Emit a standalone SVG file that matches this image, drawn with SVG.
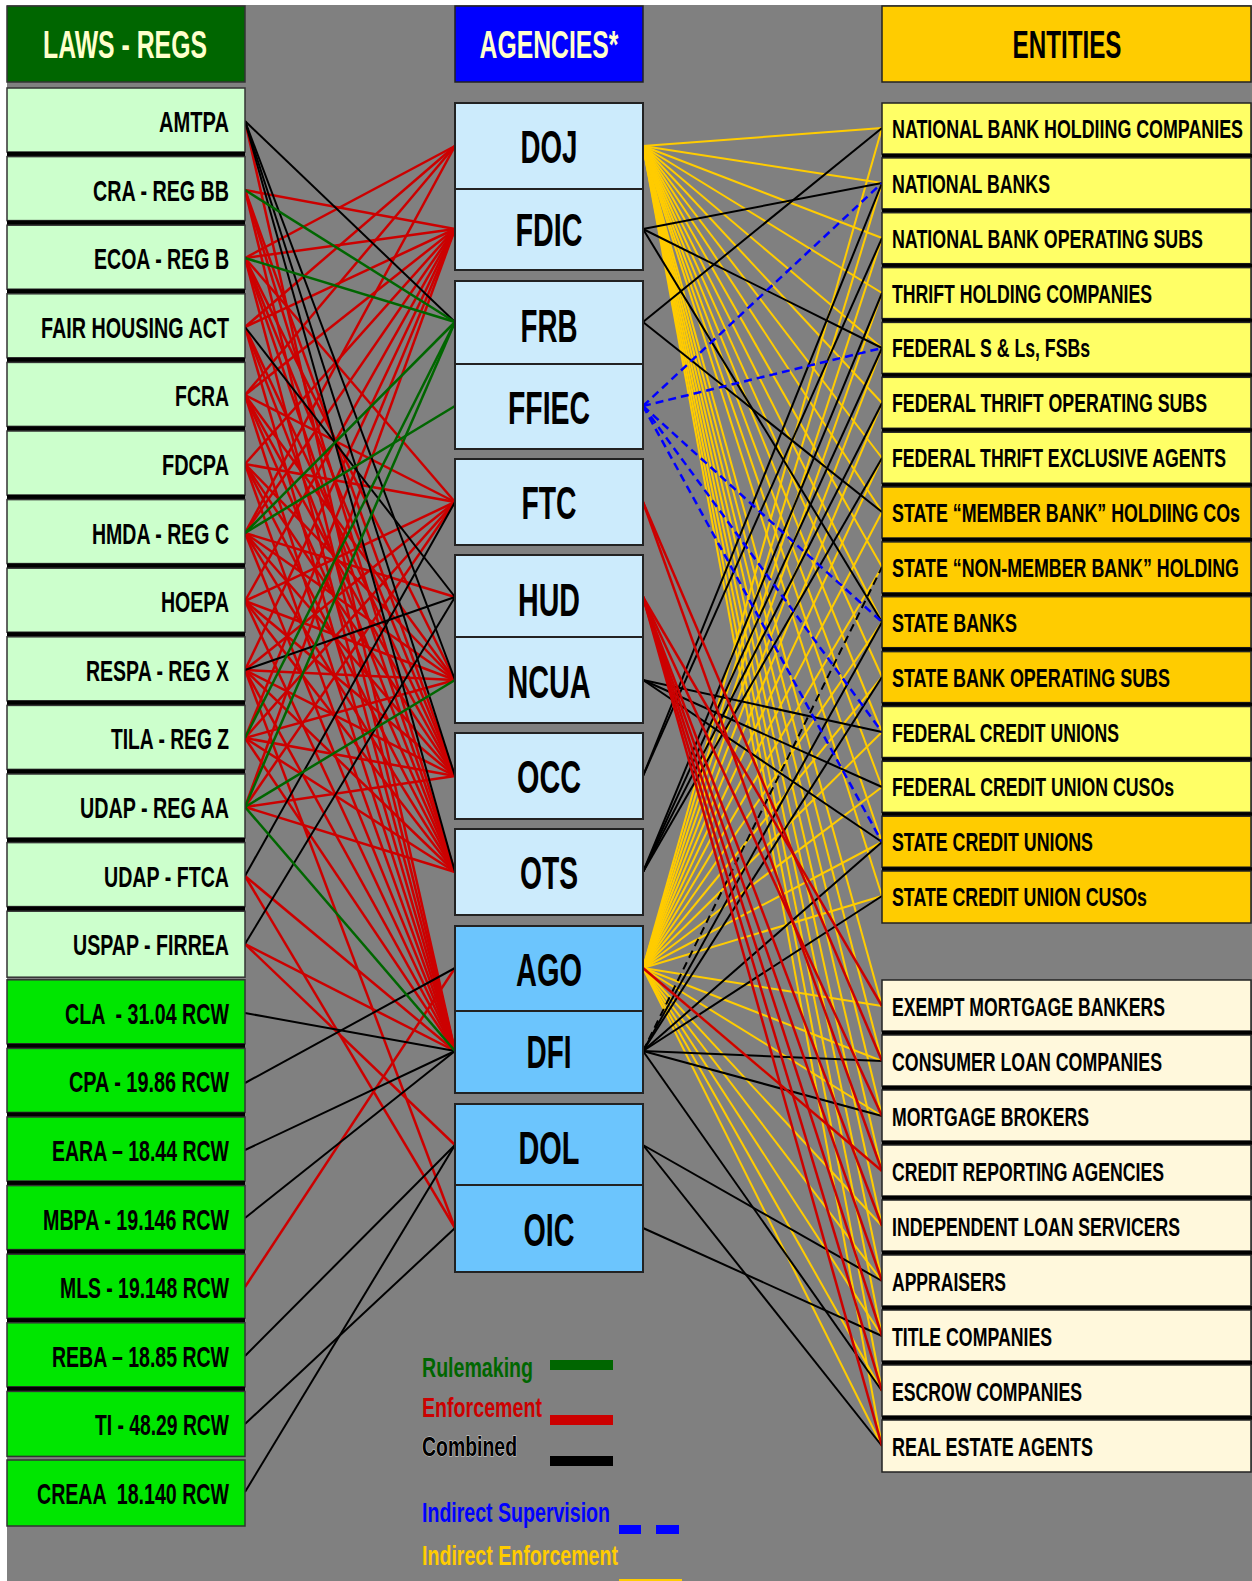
<svg xmlns="http://www.w3.org/2000/svg" width="1252" height="1581" viewBox="0 0 1252 1581">
<style>
text{font-family:"Liberation Sans Narrow","Liberation Sans",Arial,sans-serif;font-weight:bold}
.law text{font-size:30px;fill:#000;text-anchor:end}
.ag text{font-size:46px;fill:#000;text-anchor:middle}
.ent text{font-size:25px;fill:#000}
.hd{font-size:39px;text-anchor:middle}
.lf{fill:#CCFFCC;stroke:#333;stroke-width:1.5}
.lg{fill:#00E600;stroke:#333;stroke-width:1.5}
.sep{fill:#000}
.a1{fill:#CCEBFC;stroke:#222;stroke-width:2}
.a2{fill:#6CC5FD;stroke:#222;stroke-width:2}
.e1{fill:#FFFF66;stroke:#222;stroke-width:1.5}
.e2{fill:#FFCC00;stroke:#222;stroke-width:1.5}
.e3{fill:#FFF8DC;stroke:#222;stroke-width:1.5}
.r{stroke:#CC0000;stroke-width:2.5}
.k{stroke:#000;stroke-width:2}
.g{stroke:#006600;stroke-width:2.5}
.y{stroke:#FFCC00;stroke-width:2}
.b{stroke:#0000FF;stroke-width:2.5;stroke-dasharray:8 5;fill:none}
.kd{stroke:#000;stroke-width:2;stroke-dasharray:8 5}
.leg{font-size:27px}
</style>
<rect x="0" y="0" width="1252" height="1581" fill="#FFFFFF"/>
<rect x="7" y="5" width="1245" height="1576" fill="#808080"/>

<g id="connectors">
<!-- yellow: DOJ -->
<line class="y" x1="643" y1="146" x2="882" y2="128"/>
<line class="y" x1="643" y1="146" x2="882" y2="183"/>
<line class="y" x1="643" y1="146" x2="882" y2="238"/>
<line class="y" x1="643" y1="146" x2="882" y2="293"/>
<line class="y" x1="643" y1="146" x2="882" y2="348"/>
<line class="y" x1="643" y1="146" x2="882" y2="403"/>
<line class="y" x1="643" y1="146" x2="882" y2="458"/>
<line class="y" x1="643" y1="146" x2="882" y2="512"/>
<line class="y" x1="643" y1="146" x2="882" y2="567"/>
<line class="y" x1="643" y1="146" x2="882" y2="622"/>
<line class="y" x1="643" y1="146" x2="882" y2="677"/>
<line class="y" x1="643" y1="146" x2="882" y2="732"/>
<line class="y" x1="643" y1="146" x2="882" y2="787"/>
<line class="y" x1="643" y1="146" x2="882" y2="842"/>
<line class="y" x1="643" y1="146" x2="882" y2="896"/>
<line class="y" x1="643" y1="146" x2="882" y2="1006"/>
<line class="y" x1="643" y1="146" x2="882" y2="1061"/>
<line class="y" x1="643" y1="146" x2="882" y2="1116"/>
<line class="y" x1="643" y1="146" x2="882" y2="1171"/>
<line class="y" x1="643" y1="146" x2="882" y2="1226"/>
<line class="y" x1="643" y1="146" x2="882" y2="1281"/>
<line class="y" x1="643" y1="146" x2="882" y2="1336"/>
<line class="y" x1="643" y1="146" x2="882" y2="1391"/>
<line class="y" x1="643" y1="146" x2="882" y2="1446"/>
<!-- yellow: AGO -->
<line class="y" x1="643" y1="968" x2="882" y2="128"/>
<line class="y" x1="643" y1="968" x2="882" y2="183"/>
<line class="y" x1="643" y1="968" x2="882" y2="238"/>
<line class="y" x1="643" y1="968" x2="882" y2="293"/>
<line class="y" x1="643" y1="968" x2="882" y2="348"/>
<line class="y" x1="643" y1="968" x2="882" y2="403"/>
<line class="y" x1="643" y1="968" x2="882" y2="458"/>
<line class="y" x1="643" y1="968" x2="882" y2="512"/>
<line class="y" x1="643" y1="968" x2="882" y2="567"/>
<line class="y" x1="643" y1="968" x2="882" y2="622"/>
<line class="y" x1="643" y1="968" x2="882" y2="677"/>
<line class="y" x1="643" y1="968" x2="882" y2="732"/>
<line class="y" x1="643" y1="968" x2="882" y2="787"/>
<line class="y" x1="643" y1="968" x2="882" y2="842"/>
<line class="y" x1="643" y1="968" x2="882" y2="896"/>
<line class="y" x1="643" y1="968" x2="882" y2="1006"/>
<line class="y" x1="643" y1="968" x2="882" y2="1061"/>
<line class="y" x1="643" y1="968" x2="882" y2="1116"/>
<line class="y" x1="643" y1="968" x2="882" y2="1171"/>
<line class="y" x1="643" y1="968" x2="882" y2="1226"/>
<line class="y" x1="643" y1="968" x2="882" y2="1281"/>
<line class="y" x1="643" y1="968" x2="882" y2="1336"/>
<line class="y" x1="643" y1="968" x2="882" y2="1391"/>
<line class="y" x1="643" y1="968" x2="882" y2="1446"/>

<!-- right black -->
<line class="k" x1="643" y1="229" x2="882" y2="183"/>
<line class="k" x1="643" y1="229" x2="882" y2="348"/>
<line class="k" x1="643" y1="229" x2="882" y2="622"/>
<line class="k" x1="643" y1="322" x2="882" y2="128"/>
<line class="k" x1="643" y1="322" x2="882" y2="512"/>
<line class="k" x1="643" y1="776" x2="882" y2="183"/>
<line class="k" x1="643" y1="776" x2="882" y2="238"/>
<line class="k" x1="643" y1="872" x2="882" y2="293"/>
<line class="k" x1="643" y1="872" x2="882" y2="348"/>
<line class="k" x1="643" y1="872" x2="882" y2="403"/>
<line class="k" x1="643" y1="872" x2="882" y2="458"/>
<line class="k" x1="643" y1="680" x2="882" y2="732"/>
<line class="k" x1="643" y1="680" x2="882" y2="787"/>
<line class="k" x1="643" y1="680" x2="882" y2="842"/>
<line class="k" x1="643" y1="1051" x2="882" y2="622"/>
<line class="k" x1="643" y1="1051" x2="882" y2="677"/>
<line class="k" x1="643" y1="1051" x2="882" y2="842"/>
<line class="k" x1="643" y1="1051" x2="882" y2="896"/>
<line class="k" x1="643" y1="1051" x2="882" y2="1061"/>
<line class="k" x1="643" y1="1051" x2="882" y2="1116"/>
<line class="k" x1="643" y1="1051" x2="882" y2="1391"/>
<line class="kd" x1="643" y1="1051" x2="882" y2="567"/>
<line class="k" x1="643" y1="1145" x2="882" y2="1281"/>
<line class="k" x1="643" y1="1145" x2="882" y2="1446"/>
<line class="k" x1="643" y1="1228" x2="882" y2="1336"/>
<!-- right red -->
<line class="r" x1="643" y1="502" x2="882" y2="1061"/>
<line class="r" x1="643" y1="502" x2="882" y2="1171"/>
<line class="r" x1="643" y1="597" x2="882" y2="1006"/>
<line class="r" x1="643" y1="597" x2="882" y2="1116"/>
<line class="r" x1="643" y1="597" x2="882" y2="1226"/>
<line class="r" x1="643" y1="597" x2="882" y2="1281"/>
<line class="r" x1="643" y1="597" x2="882" y2="1336"/>
<line class="r" x1="643" y1="597" x2="882" y2="1391"/>
<line class="r" x1="643" y1="597" x2="882" y2="1446"/>
<line class="r" x1="643" y1="968" x2="882" y2="1171"/>
<!-- blue dashed -->
<line class="b" x1="643" y1="406" x2="882" y2="183"/>
<line class="b" x1="643" y1="406" x2="882" y2="348"/>
<line class="b" x1="643" y1="406" x2="882" y2="622"/>
<line class="b" x1="643" y1="406" x2="882" y2="732"/>
<line class="b" x1="643" y1="406" x2="882" y2="842"/>

<!-- left red -->
<line class="r" x1="245" y1="121" x2="455" y2="1051"/>
<line class="r" x1="245" y1="190" x2="455" y2="229"/>
<line class="r" x1="245" y1="190" x2="455" y2="776"/>
<line class="r" x1="245" y1="190" x2="455" y2="872"/>
<line class="r" x1="245" y1="190" x2="455" y2="1051"/>
<line class="r" x1="245" y1="258" x2="455" y2="146"/>
<line class="r" x1="245" y1="258" x2="455" y2="229"/>
<line class="r" x1="245" y1="258" x2="455" y2="502"/>
<line class="r" x1="245" y1="258" x2="455" y2="680"/>
<line class="r" x1="245" y1="258" x2="455" y2="776"/>
<line class="r" x1="245" y1="258" x2="455" y2="872"/>
<line class="r" x1="245" y1="258" x2="455" y2="1051"/>
<line class="r" x1="245" y1="327" x2="455" y2="146"/>
<line class="r" x1="245" y1="327" x2="455" y2="229"/>
<line class="r" x1="245" y1="327" x2="455" y2="776"/>
<line class="r" x1="245" y1="327" x2="455" y2="872"/>
<line class="r" x1="245" y1="327" x2="455" y2="1051"/>
<line class="r" x1="245" y1="395" x2="455" y2="146"/>
<line class="r" x1="245" y1="395" x2="455" y2="229"/>
<line class="r" x1="245" y1="395" x2="455" y2="502"/>
<line class="r" x1="245" y1="395" x2="455" y2="680"/>
<line class="r" x1="245" y1="395" x2="455" y2="776"/>
<line class="r" x1="245" y1="395" x2="455" y2="872"/>
<line class="r" x1="245" y1="395" x2="455" y2="1051"/>
<line class="r" x1="245" y1="464" x2="455" y2="229"/>
<line class="r" x1="245" y1="464" x2="455" y2="502"/>
<line class="r" x1="245" y1="464" x2="455" y2="680"/>
<line class="r" x1="245" y1="464" x2="455" y2="776"/>
<line class="r" x1="245" y1="464" x2="455" y2="872"/>
<line class="r" x1="245" y1="464" x2="455" y2="1051"/>
<line class="r" x1="245" y1="533" x2="455" y2="146"/>
<line class="r" x1="245" y1="533" x2="455" y2="229"/>
<line class="r" x1="245" y1="533" x2="455" y2="597"/>
<line class="r" x1="245" y1="533" x2="455" y2="680"/>
<line class="r" x1="245" y1="533" x2="455" y2="776"/>
<line class="r" x1="245" y1="533" x2="455" y2="872"/>
<line class="r" x1="245" y1="533" x2="455" y2="1051"/>
<line class="r" x1="245" y1="601" x2="455" y2="229"/>
<line class="r" x1="245" y1="601" x2="455" y2="502"/>
<line class="r" x1="245" y1="601" x2="455" y2="680"/>
<line class="r" x1="245" y1="601" x2="455" y2="776"/>
<line class="r" x1="245" y1="601" x2="455" y2="872"/>
<line class="r" x1="245" y1="601" x2="455" y2="1051"/>
<line class="r" x1="245" y1="670" x2="455" y2="229"/>
<line class="r" x1="245" y1="670" x2="455" y2="502"/>
<line class="r" x1="245" y1="670" x2="455" y2="680"/>
<line class="r" x1="245" y1="670" x2="455" y2="776"/>
<line class="r" x1="245" y1="670" x2="455" y2="872"/>
<line class="r" x1="245" y1="670" x2="455" y2="1051"/>
<line class="r" x1="245" y1="670" x2="455" y2="1228"/>
<line class="r" x1="245" y1="738" x2="455" y2="229"/>
<line class="r" x1="245" y1="738" x2="455" y2="502"/>
<line class="r" x1="245" y1="738" x2="455" y2="680"/>
<line class="r" x1="245" y1="738" x2="455" y2="776"/>
<line class="r" x1="245" y1="738" x2="455" y2="872"/>
<line class="r" x1="245" y1="738" x2="455" y2="1051"/>
<line class="r" x1="245" y1="807" x2="455" y2="229"/>
<line class="r" x1="245" y1="807" x2="455" y2="502"/>
<line class="r" x1="245" y1="807" x2="455" y2="776"/>
<line class="r" x1="245" y1="807" x2="455" y2="872"/>
<line class="r" x1="245" y1="876" x2="455" y2="1051"/>
<line class="r" x1="245" y1="876" x2="455" y2="1228"/>
<line class="r" x1="245" y1="944" x2="455" y2="1051"/>
<line class="r" x1="245" y1="944" x2="455" y2="1145"/>
<line class="r" x1="245" y1="1287" x2="455" y2="968"/>
<!-- left black -->
<line class="k" x1="245" y1="121" x2="455" y2="322"/>
<line class="k" x1="245" y1="121" x2="455" y2="680"/>
<line class="k" x1="245" y1="121" x2="455" y2="776"/>
<line class="k" x1="245" y1="121" x2="455" y2="872"/>
<line class="k" x1="245" y1="327" x2="455" y2="597"/>
<line class="k" x1="245" y1="670" x2="455" y2="597"/>
<line class="k" x1="245" y1="876" x2="455" y2="502"/>
<line class="k" x1="245" y1="944" x2="455" y2="597"/>
<line class="k" x1="245" y1="1013" x2="455" y2="1051"/>
<line class="k" x1="245" y1="1083" x2="455" y2="968"/>
<line class="k" x1="245" y1="1150" x2="455" y2="1051"/>
<line class="k" x1="245" y1="1218" x2="455" y2="1051"/>
<line class="k" x1="245" y1="1356" x2="455" y2="1145"/>
<line class="k" x1="245" y1="1424" x2="455" y2="1228"/>
<line class="k" x1="245" y1="1492" x2="455" y2="1145"/>
<!-- left green -->
<line class="g" x1="245" y1="190" x2="455" y2="322"/>
<line class="g" x1="245" y1="258" x2="455" y2="322"/>
<line class="g" x1="245" y1="533" x2="455" y2="322"/>
<line class="g" x1="245" y1="533" x2="455" y2="406"/>
<line class="g" x1="245" y1="738" x2="455" y2="322"/>
<line class="g" x1="245" y1="807" x2="455" y2="322"/>
<line class="g" x1="245" y1="807" x2="455" y2="680"/>
<line class="g" x1="245" y1="807" x2="455" y2="1051"/>
</g>

<!-- headers -->
<g id="hdr-laws"><rect x="7" y="6" width="238" height="76" fill="#006600" stroke="#333" stroke-width="1.5"/><text class="hd" x="125" y="58" fill="#FFFFCC" textLength="164" lengthAdjust="spacingAndGlyphs">LAWS - REGS</text></g>
<g id="hdr-agencies"><rect x="455" y="6" width="188" height="76" fill="#0000FF" stroke="#222" stroke-width="1.5"/><text class="hd" x="549" y="58" fill="#FFFFCC" textLength="139" lengthAdjust="spacingAndGlyphs">AGENCIES*</text></g>
<g id="hdr-entities"><rect x="882" y="6" width="369" height="76" fill="#FFCC00" stroke="#222" stroke-width="1.5"/><text class="hd" x="1067" y="58" fill="#000" textLength="109" lengthAdjust="spacingAndGlyphs">ENTITIES</text></g>

<!-- laws -->
<g class="law">
<g id="law-amtpa"><rect class="lf" x="7" y="88" width="238" height="64"/><rect class="sep" x="7" y="152" width="238" height="4.6"/><text x="229" y="132" textLength="70" lengthAdjust="spacingAndGlyphs">AMTPA</text></g>
<g id="law-cra"><rect class="lf" x="7" y="156.6" width="238" height="64"/><rect class="sep" x="7" y="220.6" width="238" height="4.6"/><text x="229" y="200.6" textLength="136" lengthAdjust="spacingAndGlyphs">CRA - REG BB</text></g>
<g id="law-ecoa"><rect class="lf" x="7" y="225.2" width="238" height="64"/><rect class="sep" x="7" y="289.2" width="238" height="4.6"/><text x="229" y="269.2" textLength="135" lengthAdjust="spacingAndGlyphs">ECOA - REG B</text></g>
<g id="law-fha"><rect class="lf" x="7" y="293.8" width="238" height="64"/><rect class="sep" x="7" y="357.8" width="238" height="4.6"/><text x="229" y="337.8" textLength="188" lengthAdjust="spacingAndGlyphs">FAIR HOUSING ACT</text></g>
<g id="law-fcra"><rect class="lf" x="7" y="362.4" width="238" height="64"/><rect class="sep" x="7" y="426.4" width="238" height="4.6"/><text x="229" y="406.4" textLength="54" lengthAdjust="spacingAndGlyphs">FCRA</text></g>
<g id="law-fdcpa"><rect class="lf" x="7" y="431" width="238" height="64"/><rect class="sep" x="7" y="495" width="238" height="4.6"/><text x="229" y="475" textLength="67" lengthAdjust="spacingAndGlyphs">FDCPA</text></g>
<g id="law-hmda"><rect class="lf" x="7" y="499.6" width="238" height="64"/><rect class="sep" x="7" y="563.6" width="238" height="4.6"/><text x="229" y="543.6" textLength="137" lengthAdjust="spacingAndGlyphs">HMDA - REG C</text></g>
<g id="law-hoepa"><rect class="lf" x="7" y="568.2" width="238" height="64"/><rect class="sep" x="7" y="632.2" width="238" height="4.6"/><text x="229" y="612.2" textLength="68" lengthAdjust="spacingAndGlyphs">HOEPA</text></g>
<g id="law-respa"><rect class="lf" x="7" y="636.8" width="238" height="64"/><rect class="sep" x="7" y="700.8" width="238" height="4.6"/><text x="229" y="680.8" textLength="143" lengthAdjust="spacingAndGlyphs">RESPA - REG X</text></g>
<g id="law-tila"><rect class="lf" x="7" y="705.4" width="238" height="64"/><rect class="sep" x="7" y="769.4" width="238" height="4.6"/><text x="229" y="749.4" textLength="118" lengthAdjust="spacingAndGlyphs">TILA - REG Z</text></g>
<g id="law-udap-aa"><rect class="lf" x="7" y="774" width="238" height="64"/><rect class="sep" x="7" y="838" width="238" height="4.6"/><text x="229" y="818" textLength="149" lengthAdjust="spacingAndGlyphs">UDAP - REG AA</text></g>
<g id="law-udap-ftca"><rect class="lf" x="7" y="842.6" width="238" height="64"/><rect class="sep" x="7" y="906.6" width="238" height="4.6"/><text x="229" y="886.6" textLength="125" lengthAdjust="spacingAndGlyphs">UDAP - FTCA</text></g>
<g id="law-uspap"><rect class="lf" x="7" y="911.2" width="238" height="66"/><text x="229" y="955.2" textLength="156" lengthAdjust="spacingAndGlyphs">USPAP - FIRREA</text></g>
<g id="law-cla"><rect class="lg" x="7" y="979.8" width="238" height="64"/><rect class="sep" x="7" y="1043.8" width="238" height="4.6"/><text x="229" y="1023.8" textLength="164" lengthAdjust="spacingAndGlyphs" xml:space="preserve">CLA  - 31.04 RCW</text></g>
<g id="law-cpa"><rect class="lg" x="7" y="1048.4" width="238" height="64"/><rect class="sep" x="7" y="1112.4" width="238" height="4.6"/><text x="229" y="1092.4" textLength="160" lengthAdjust="spacingAndGlyphs">CPA - 19.86 RCW</text></g>
<g id="law-eara"><rect class="lg" x="7" y="1117" width="238" height="64"/><rect class="sep" x="7" y="1181" width="238" height="4.6"/><text x="229" y="1161" textLength="177" lengthAdjust="spacingAndGlyphs">EARA – 18.44 RCW</text></g>
<g id="law-mbpa"><rect class="lg" x="7" y="1185.6" width="238" height="64"/><rect class="sep" x="7" y="1249.6" width="238" height="4.6"/><text x="229" y="1229.6" textLength="186" lengthAdjust="spacingAndGlyphs">MBPA - 19.146 RCW</text></g>
<g id="law-mls"><rect class="lg" x="7" y="1254.2" width="238" height="64"/><rect class="sep" x="7" y="1318.2" width="238" height="4.6"/><text x="229" y="1298.2" textLength="169" lengthAdjust="spacingAndGlyphs">MLS - 19.148 RCW</text></g>
<g id="law-reba"><rect class="lg" x="7" y="1322.8" width="238" height="64"/><rect class="sep" x="7" y="1386.8" width="238" height="4.6"/><text x="229" y="1366.8" textLength="177" lengthAdjust="spacingAndGlyphs">REBA – 18.85 RCW</text></g>
<g id="law-ti"><rect class="lg" x="7" y="1391.4" width="238" height="65"/><text x="229" y="1435.4" textLength="134" lengthAdjust="spacingAndGlyphs">TI - 48.29 RCW</text></g>
<g id="law-creaa"><rect class="lg" x="7" y="1460" width="238" height="66"/><text x="229" y="1504" textLength="192" lengthAdjust="spacingAndGlyphs" xml:space="preserve">CREAA  18.140 RCW</text></g>
</g>

<!-- agencies -->
<g class="ag">
<g id="ag-doj"><rect class="a1" x="455" y="103" width="188" height="86"/><text x="549" y="163" textLength="57" lengthAdjust="spacingAndGlyphs">DOJ</text></g>
<g id="ag-fdic"><rect class="a1" x="455" y="189" width="188" height="81"/><text x="549" y="246" textLength="67" lengthAdjust="spacingAndGlyphs">FDIC</text></g>
<g id="ag-frb"><rect class="a1" x="455" y="281" width="188" height="83"/><text x="549" y="342" textLength="57" lengthAdjust="spacingAndGlyphs">FRB</text></g>
<g id="ag-ffiec"><rect class="a1" x="455" y="364" width="188" height="85"/><text x="549" y="424" textLength="82" lengthAdjust="spacingAndGlyphs">FFIEC</text></g>
<g id="ag-ftc"><rect class="a1" x="455" y="459" width="188" height="86"/><text x="549" y="519" textLength="55" lengthAdjust="spacingAndGlyphs">FTC</text></g>
<g id="ag-hud"><rect class="a1" x="455" y="555" width="188" height="82"/><text x="549" y="616" textLength="62" lengthAdjust="spacingAndGlyphs">HUD</text></g>
<g id="ag-ncua"><rect class="a1" x="455" y="637" width="188" height="86"/><text x="549" y="698" textLength="83" lengthAdjust="spacingAndGlyphs">NCUA</text></g>
<g id="ag-occ"><rect class="a1" x="455" y="733" width="188" height="86"/><text x="549" y="793" textLength="64" lengthAdjust="spacingAndGlyphs">OCC</text></g>
<g id="ag-ots"><rect class="a1" x="455" y="829" width="188" height="86"/><text x="549" y="889" textLength="58" lengthAdjust="spacingAndGlyphs">OTS</text></g>
<g id="ag-ago"><rect class="a2" x="455" y="926" width="188" height="85"/><text x="549" y="986" textLength="66" lengthAdjust="spacingAndGlyphs">AGO</text></g>
<g id="ag-dfi"><rect class="a2" x="455" y="1011" width="188" height="82"/><text x="549" y="1068" textLength="45" lengthAdjust="spacingAndGlyphs">DFI</text></g>
<g id="ag-dol"><rect class="a2" x="455" y="1104" width="188" height="81"/><text x="549" y="1164" textLength="61" lengthAdjust="spacingAndGlyphs">DOL</text></g>
<g id="ag-oic"><rect class="a2" x="455" y="1185" width="188" height="87"/><text x="549" y="1246" textLength="51" lengthAdjust="spacingAndGlyphs">OIC</text></g>
</g>

<!-- entities -->
<g class="ent">
<g id="ent-nbhc"><rect class="e1" x="882" y="103" width="369" height="51"/><rect class="sep" x="882" y="154" width="370" height="4"/><text x="892" y="138" textLength="351" lengthAdjust="spacingAndGlyphs">NATIONAL BANK HOLDIING COMPANIES</text></g>
<g id="ent-nb"><rect class="e1" x="882" y="157.9" width="369" height="51"/><rect class="sep" x="882" y="208.9" width="370" height="4"/><text x="892" y="192.9" textLength="158" lengthAdjust="spacingAndGlyphs">NATIONAL BANKS</text></g>
<g id="ent-nbos"><rect class="e1" x="882" y="212.7" width="369" height="51"/><rect class="sep" x="882" y="263.7" width="370" height="4"/><text x="892" y="247.7" textLength="311" lengthAdjust="spacingAndGlyphs">NATIONAL BANK OPERATING SUBS</text></g>
<g id="ent-thc"><rect class="e1" x="882" y="267.6" width="369" height="51"/><rect class="sep" x="882" y="318.6" width="370" height="4"/><text x="892" y="302.6" textLength="260" lengthAdjust="spacingAndGlyphs">THRIFT HOLDING COMPANIES</text></g>
<g id="ent-fsl"><rect class="e1" x="882" y="322.4" width="369" height="51"/><rect class="sep" x="882" y="373.4" width="370" height="4"/><text x="892" y="357.4" textLength="198" lengthAdjust="spacingAndGlyphs">FEDERAL S &amp; Ls, FSBs</text></g>
<g id="ent-ftos"><rect class="e1" x="882" y="377.3" width="369" height="51"/><rect class="sep" x="882" y="428.3" width="370" height="4"/><text x="892" y="412.3" textLength="315" lengthAdjust="spacingAndGlyphs">FEDERAL THRIFT OPERATING SUBS</text></g>
<g id="ent-ftea"><rect class="e1" x="882" y="432.2" width="369" height="51"/><rect class="sep" x="882" y="483.2" width="370" height="4"/><text x="892" y="467.2" textLength="334" lengthAdjust="spacingAndGlyphs">FEDERAL THRIFT EXCLUSIVE AGENTS</text></g>
<g id="ent-smbhc"><rect class="e2" x="882" y="487" width="369" height="51"/><rect class="sep" x="882" y="538" width="370" height="4"/><text x="892" y="522" textLength="348" lengthAdjust="spacingAndGlyphs">STATE “MEMBER BANK” HOLDIING COs</text></g>
<g id="ent-snmbhc"><rect class="e2" x="882" y="541.9" width="369" height="51"/><rect class="sep" x="882" y="592.9" width="370" height="4"/><text x="892" y="576.9" textLength="347" lengthAdjust="spacingAndGlyphs">STATE “NON-MEMBER BANK” HOLDING</text></g>
<g id="ent-sb"><rect class="e2" x="882" y="596.7" width="369" height="51"/><rect class="sep" x="882" y="647.7" width="370" height="4"/><text x="892" y="631.7" textLength="125" lengthAdjust="spacingAndGlyphs">STATE BANKS</text></g>
<g id="ent-sbos"><rect class="e2" x="882" y="651.6" width="369" height="51"/><rect class="sep" x="882" y="702.6" width="370" height="4"/><text x="892" y="686.6" textLength="278" lengthAdjust="spacingAndGlyphs">STATE BANK OPERATING SUBS</text></g>
<g id="ent-fcu"><rect class="e1" x="882" y="706.5" width="369" height="51"/><rect class="sep" x="882" y="757.5" width="370" height="4"/><text x="892" y="741.5" textLength="227" lengthAdjust="spacingAndGlyphs">FEDERAL CREDIT UNIONS</text></g>
<g id="ent-fcuc"><rect class="e1" x="882" y="761.3" width="369" height="51"/><rect class="sep" x="882" y="812.3" width="370" height="4"/><text x="892" y="796.3" textLength="282" lengthAdjust="spacingAndGlyphs">FEDERAL CREDIT UNION CUSOs</text></g>
<g id="ent-scu"><rect class="e2" x="882" y="816.2" width="369" height="51"/><rect class="sep" x="882" y="867.2" width="370" height="4"/><text x="892" y="851.2" textLength="201" lengthAdjust="spacingAndGlyphs">STATE CREDIT UNIONS</text></g>
<g id="ent-scuc"><rect class="e2" x="882" y="871" width="369" height="52"/><text x="892" y="906" textLength="255" lengthAdjust="spacingAndGlyphs">STATE CREDIT UNION CUSOs</text></g>

<g id="ent-emb"><rect class="e3" x="882" y="980" width="369" height="51"/><rect class="sep" x="882" y="1031" width="370" height="4"/><text x="892" y="1016" textLength="273" lengthAdjust="spacingAndGlyphs">EXEMPT MORTGAGE BANKERS</text></g>
<g id="ent-clc"><rect class="e3" x="882" y="1035" width="369" height="51"/><rect class="sep" x="882" y="1086" width="370" height="4"/><text x="892" y="1071" textLength="270" lengthAdjust="spacingAndGlyphs">CONSUMER LOAN COMPANIES</text></g>
<g id="ent-mb"><rect class="e3" x="882" y="1090" width="369" height="51"/><rect class="sep" x="882" y="1141" width="370" height="4"/><text x="892" y="1126" textLength="197" lengthAdjust="spacingAndGlyphs">MORTGAGE BROKERS</text></g>
<g id="ent-cra"><rect class="e3" x="882" y="1145" width="369" height="51"/><rect class="sep" x="882" y="1196" width="370" height="4"/><text x="892" y="1181" textLength="272" lengthAdjust="spacingAndGlyphs">CREDIT REPORTING AGENCIES</text></g>
<g id="ent-ils"><rect class="e3" x="882" y="1200" width="369" height="51"/><rect class="sep" x="882" y="1251" width="370" height="4"/><text x="892" y="1236" textLength="288" lengthAdjust="spacingAndGlyphs">INDEPENDENT LOAN SERVICERS</text></g>
<g id="ent-app"><rect class="e3" x="882" y="1255" width="369" height="51"/><rect class="sep" x="882" y="1306" width="370" height="4"/><text x="892" y="1291" textLength="114" lengthAdjust="spacingAndGlyphs">APPRAISERS</text></g>
<g id="ent-tc"><rect class="e3" x="882" y="1310" width="369" height="51"/><rect class="sep" x="882" y="1361" width="370" height="4"/><text x="892" y="1346" textLength="160" lengthAdjust="spacingAndGlyphs">TITLE COMPANIES</text></g>
<g id="ent-ec"><rect class="e3" x="882" y="1365" width="369" height="51"/><rect class="sep" x="882" y="1416" width="370" height="4"/><text x="892" y="1401" textLength="190" lengthAdjust="spacingAndGlyphs">ESCROW COMPANIES</text></g>
<g id="ent-rea"><rect class="e3" x="882" y="1420" width="369" height="52"/><text x="892" y="1456" textLength="201" lengthAdjust="spacingAndGlyphs">REAL ESTATE AGENTS</text></g>
</g>

<!-- legend -->
<g id="legend">
<text class="leg" x="422" y="1377" fill="#006600" textLength="111" lengthAdjust="spacingAndGlyphs">Rulemaking</text>
<rect x="550" y="1360" width="63" height="10" fill="#006600"/>
<text class="leg" x="422" y="1417" fill="#CC0000" textLength="120" lengthAdjust="spacingAndGlyphs">Enforcement</text>
<rect x="550" y="1415" width="63" height="10" fill="#CC0000"/>
<text class="leg" x="422" y="1456" fill="#000" stroke="#DDDDDD" stroke-width="1" paint-order="stroke" font-weight="normal" textLength="95" lengthAdjust="spacingAndGlyphs">Combined</text>
<rect x="550" y="1456" width="63" height="10" fill="#000"/>
<text class="leg" x="422" y="1522" fill="#0000FF" textLength="188" lengthAdjust="spacingAndGlyphs">Indirect Supervision</text>
<rect x="619" y="1525" width="22" height="9" fill="#0000FF"/>
<rect x="656" y="1525" width="23" height="9" fill="#0000FF"/>
<text class="leg" x="422" y="1565" fill="#FFCC00" textLength="196" lengthAdjust="spacingAndGlyphs">Indirect Enforcement</text>
<rect x="619" y="1579" width="63" height="3" fill="#FFCC00"/>
</g>
</svg>
